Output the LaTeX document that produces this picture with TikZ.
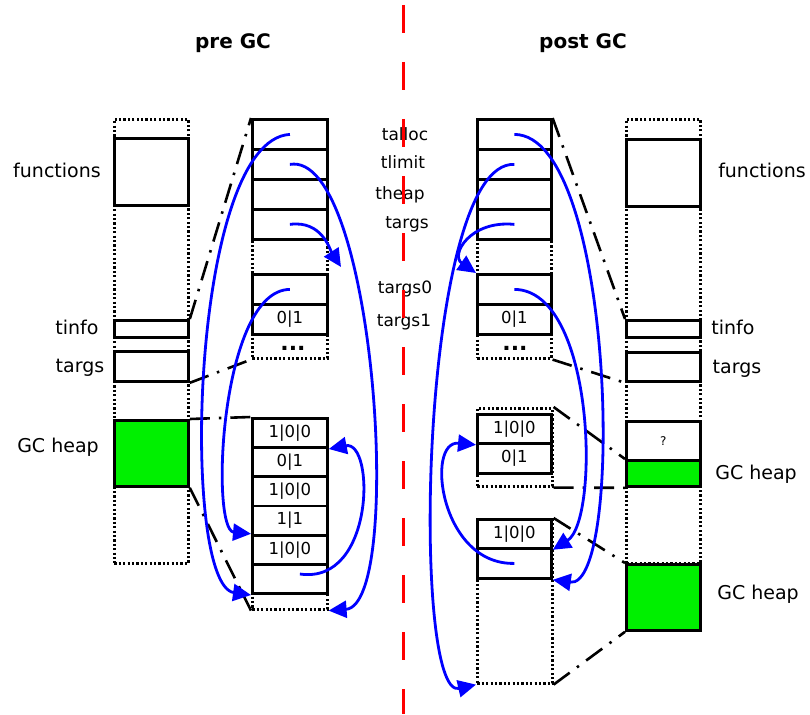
\documentclass[tikz,border=0pt]{standalone}
\usepackage{fontspec}
\setmainfont{DejaVu Sans}
\usepackage{xcolor}
\usetikzlibrary{arrows.meta}
\definecolor{heapgreen}{RGB}{0,240,0}
\tikzset{
  box/.style={draw,line width=2.8pt,anchor=north west,inner sep=0pt,minimum width=74pt},
  dotbox/.style={draw,line width=2.6pt,dash pattern=on 2.2pt off 2.2pt,anchor=north west,inner sep=0pt,minimum width=74pt},
  cell/.style={box,minimum width=75pt,minimum height=30pt,font=\fontsize{16.5}{18}\selectfont},
  lbl/.style={anchor=base,inner sep=0pt,font=\fontsize{19}{22}\selectfont},
  ptr/.style={anchor=base,inner sep=0pt,font=\fontsize{17}{20}\selectfont},
  link/.style={line width=2.6pt,dash pattern=on 20pt off 9pt on 2.5pt off 9pt},
  mov/.style={blue,line width=2.8pt,-{Triangle[length=18pt,width=17pt]}},
  heap/.style={box,fill=heapgreen}
}

\begin{document}
\begin{tikzpicture}[x=1pt,y=-1pt]
\useasboundingbox (0,0) rectangle (810,714);

% titles
\node[anchor=base,inner sep=0pt,font=\fontsize{20}{24}\bfseries] (pre) at (233,49) {pre GC};
\node[anchor=base,inner sep=0pt,font=\fontsize{20}{24}\bfseries] (post) at (583,49) {post GC};

% pre GC: memory column
\node[dotbox,minimum height=444pt] (lcol) at (113,118) {};
\node[box,minimum height=67pt] (lfun) at (113,137) {};
\node[box,minimum height=17pt] (ltinfo) at (113,319) {};
\node[box,minimum height=30pt] (ltargs) at (113,350) {};
\node[heap,minimum height=66pt] (lheap) at (113,419) {};

\node[lbl] (tlfun) at (57,178) {functions};
\node[lbl] (tltinfo) at (77,334) {tinfo};
\node[lbl] (tltargs) at (80,372) {targs};
\node[lbl] (tlheap) at (58,452) {GC heap};

% pre GC: thread info
\node[dotbox,minimum width=75pt,minimum height=239pt] (mcol) at (251,118) {};
\foreach \n/\y in {1/118,2/148,3/178,4/208}
  \node[cell] (pa\n) at (251,\y) {};
\node[cell] (pb1) at (251,273) {};
\node[cell] (pb2) at (251,303) {0|1};
\node[anchor=base,inner sep=0pt,font=\bfseries\fontsize{22}{24}\selectfont] (pdots) at (293,350) {...};

% pre GC: heap
\node[dotbox,minimum width=75pt,minimum height=191pt] (hcol) at (251,417) {};
\foreach \n/\y/\t in {1/417/1|0|0,2/446.2/0|1,3/475.4/1|0|0,4/504.6/1|1,5/533.8/1|0|0,6/563/}
  \node[cell,minimum height=29.2pt] (ph\n) at (251,\y) {\t};

% pointer names
\node[ptr] (ntalloc) at (405,141) {talloc};
\node[ptr] (ntlimit) at (403,168) {tlimit};
\node[ptr] (ntheap) at (400,199) {theap};
\node[ptr] (ntargs) at (407,228) {targs};
\node[ptr] (ntargs0) at (405,293) {targs0};
\node[ptr] (ntargs1) at (404,326) {targs1};

% post GC: thread info
\node[dotbox,minimum height=239pt] (qcol) at (476,118) {};
\foreach \n/\y in {1/118,2/148,3/178,4/208}
  \node[cell,minimum width=74pt] (qa\n) at (476,\y) {};
\node[cell,minimum width=74pt] (qb1) at (476,273) {};
\node[cell,minimum width=74pt] (qb2) at (476,303) {0|1};
\node[anchor=base,inner sep=0pt,font=\bfseries\fontsize{22}{24}\selectfont] (qdots) at (515,350) {...};

% post GC: copied objects
\node[dotbox,minimum width=75pt,minimum height=78pt] (qg1) at (476,407) {};
\node[cell,minimum width=74pt,minimum height=29pt] (qh1) at (476,413) {1|0|0};
\node[cell,minimum width=74pt] (qh2) at (476,442) {0|1};
\node[dotbox,minimum width=75pt,minimum height=164pt] (qg2) at (476,518) {};
\node[cell,minimum width=74pt,minimum height=29pt] (qk1) at (476,518) {1|0|0};
\node[cell,minimum width=74pt] (qk2) at (476,547) {};

% post GC: memory column
\node[dotbox,minimum height=444pt] (rcol) at (625,118) {};
\node[box,minimum height=67pt] (rfun) at (625,138) {};
\node[box,minimum height=17pt] (rtinfo) at (625,319) {};
\node[box,minimum height=29pt] (rtargs) at (625,351) {};
\node[box,minimum height=39pt,font=\fontsize{12}{14}\selectfont] (rq) at (625,420) {?};
\node[heap,minimum height=26pt] (rheap1) at (625,459) {};
\node[heap,minimum height=66pt] (rheap2) at (625,563) {};

\node[lbl] (trfun) at (762,177) {functions};
\node[lbl] (trtinfo) at (733,334) {tinfo};
\node[lbl] (trtargs) at (737,373) {targs};
\node[lbl] (trheap1) at (756,479) {GC heap};
\node[lbl] (trheap2) at (758,599) {GC heap};

% dash-dot links between the views
\foreach \y\z in {ltinfo.north east/mcol.north west,ltargs.south east/mcol.south west,
                  lheap.north east/hcol.north west,lheap.south east/hcol.south west,
                  qcol.north east/rtinfo.north west,qcol.south east/rtargs.south west,
                  qg1.north east/rheap1.north west,qg1.south east/rheap1.south west,
                  qg2.north east/rheap2.north west,qg2.south east/rheap2.south west}
  \draw[link] (\y) -- (\z);

% pointers before GC
\coordinate (ptip) at (341,267);
\draw[mov] (pa1.center) .. controls (190,140) and (180,585) .. (ph6.south west);
\draw[mov] (pa2.center) .. controls (375,150) and (405,605) .. (hcol.south east);
\draw[mov] (pa4.center) .. controls (322,220) and (330,250) .. (ptip);
\draw[mov] (pb1.center) .. controls (220,290) and (210,530) .. (ph5.north west);
\draw[mov] ([xshift=10pt,yshift=5pt]ph6.center) .. controls (375,585) and (375,440) .. (ph1.south east);

% pointers after GC
\draw[mov] (qa1.center) .. controls (615,135) and (625,590) .. (qk2.south east);
\draw[mov] (qa2.center) .. controls (420,160) and (410,700) .. (qg2.south west);
\draw[mov] (qa4.center) .. controls (470,220) and (450,255) .. (qb1.north west);
\draw[mov] (qb1.center) .. controls (595,290) and (600,520) .. (qk1.south east);
\draw[mov] (qk2.center) .. controls (440,565) and (425,440) .. (qh1.south west);

% split line
\coordinate (stop) at (403,5);
\coordinate (sbot) at (403,714);
\draw[red,line width=3pt,dash pattern=on 28pt off 29pt] (stop) -- (sbot);

\end{tikzpicture}
\end{document}
